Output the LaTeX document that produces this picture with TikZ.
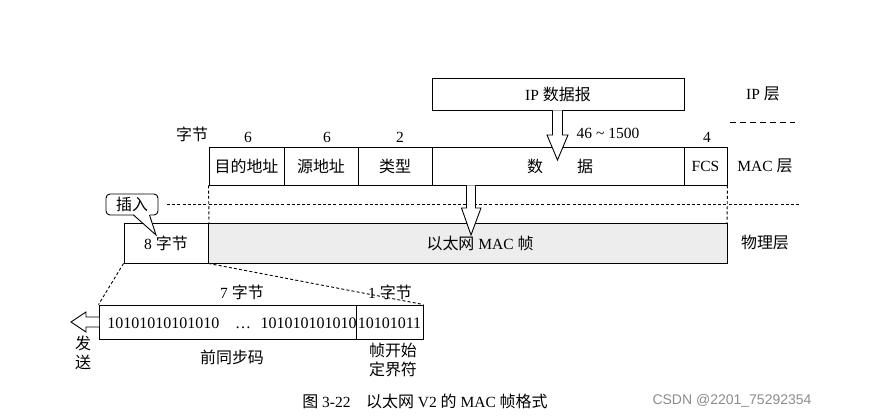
\documentclass[tikz,border=0pt]{standalone}
\usepackage{fontspec}
\setmainfont{Liberation Serif}
\newfontfamily\cjk[Scale=1.03]{Noto Sans CJK SC}
\newfontfamily\wmfont{Liberation Sans}
\newcommand\zh[1]{{\cjk #1}}
\begin{document}
\begin{tikzpicture}[x=1pt,y=-1pt,line width=0.9pt,
  every node/.style={font=\fontsize{15.5}{18}\selectfont, inner sep=0pt},
  fld/.style={draw, minimum height=38pt},
  phy/.style={draw, minimum height=40pt},
  pre/.style={draw, minimum height=34pt},
  lbl/.style={},
  bin/.style={font=\fontsize{16}{18}\selectfont},
  hollow/.style={draw, fill=white, line width=0.9pt, line join=miter},
  dotline/.style={dash pattern=on 3pt off 2.2pt},
  dashline/.style={dash pattern=on 6pt off 4pt}]
\useasboundingbox (0,0) rectangle (889,417);

% IP datagram
\node[draw, minimum width=252pt, minimum height=32pt] (ip) at (558,94) {IP \zh{数据报}};
\node[lbl] (iplayer) at (763,94) {IP \zh{层}};
\draw[dashline] (730,122) -- (795,122);

% MAC frame
\node[fld, minimum width=75pt] (dst) at (246.5,166) {\zh{目的地址}};
\node[fld, minimum width=74pt] (src) at (321,166) {\zh{源地址}};
\node[fld, minimum width=74pt] (typ) at (395,166) {\zh{类型}};
\node[fld, minimum width=252pt] (dat) at (558,166) {};
\node (dat1) at (535,166) {\zh{数}};
\node (dat2) at (585,166) {\zh{据}};
\node[fld, minimum width=43pt] (fcs) at (705.5,166) {FCS};
\node[lbl] (maclayer) at (765,166) {MAC \zh{层}};

\node (byt) at (192,134) {\zh{字节}};
\node (n1) at (248,137) {6};
\node (n2) at (327,137) {6};
\node (n3) at (400,137) {2};
\node (n4) at (608,133) {46 \textasciitilde{} 1500};
\node (n5) at (707,137) {4};

% separators
\draw[dotline] (167,204) -- (800,204);
\draw[dotline] (dst.south west) -- (209,223);
\draw[dotline] (fcs.south east) -- (727,223);

% physical layer
\node[phy, minimum width=84pt] (pre8) at (166,243) {8 \zh{字节}};
\node[phy, minimum width=519pt, fill=black!7] (frm) at (467.5,243) {};
\node (frmt) at (480,243) {\zh{以太网} MAC \zh{帧}};
\node[lbl] (phylayer) at (765,243) {\zh{物理层}};

% hollow arrows
\draw[hollow] (552.5,110.4) -- (552.5,135) -- (547,135) -- (557.5,160) -- (568,135) -- (562.5,135) -- (562.5,110.4);
\draw[hollow] (466.5,185.4) -- (466.5,208) -- (461.5,208) -- (471,235) -- (481,208) -- (475.5,208) -- (475.5,185.4);

% callout
\node[draw, rounded corners=4pt, minimum width=52pt, minimum height=21pt] (ins) at (132,204.5) {\zh{插入}};
\fill[white] (134,214.2) -- (156,235) -- (149.5,214.2) -- cycle;
\draw (133.5,215) -- (156,235) -- (149.5,215);

% preamble detail
\node[pre, minimum width=257pt] (pa) at (227.5,322) {};
\node[pre, minimum width=67pt] (sfd) at (389.5,322) {};
\node[bin, anchor=west] (b1) at (107,323) {10101010101010};
\node[bin, anchor=base] (dots) at (243,328) {…};
\node[bin, anchor=east] (b2) at (357,323) {101010101010};
\node[bin] (b3) at (389.5,323) {10101011};
\draw[dotline] (pre8.south west) -- (pa.north west);
\draw[dotline] (pre8.south east) -- (sfd.north east);
\node (l7) at (242,292) {7 \zh{字节}};
\node (l1) at (390,292) {1 \zh{字节}};

% send arrow
\draw[hollow] (99,317) -- (86,317) -- (86,312) -- (71,322) -- (86,332) -- (86,327) -- (99,327);
\node (fa) at (83,343) {\zh{发}};
\node (song) at (83,362) {\zh{送}};

\node (pq) at (232,357) {\zh{前同步码}};
\node[align=center, font=\fontsize{15.5}{18.5}\selectfont] (sfdl) at (393,360) {\zh{帧开始}\\\zh{定界符}};

% caption
\node (cap) at (425,401) {\zh{图} 3-22\quad \zh{以太网} V2 \zh{的} MAC \zh{帧格式}};
\node[font=\wmfont\fontsize{14}{16}\selectfont, text=black!45] (wm) at (732,401) {CSDN @2201\_75292354};
\end{tikzpicture}
\end{document}
